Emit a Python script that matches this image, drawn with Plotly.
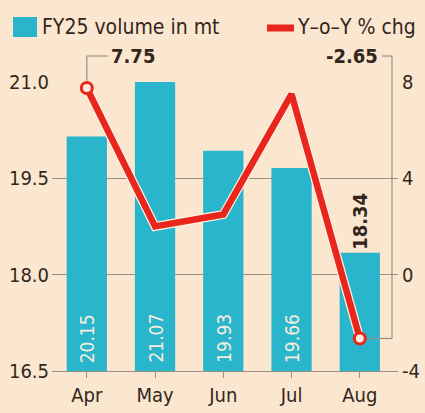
import plotly.graph_objects as go

months = ["Apr", "May", "Jun", "Jul", "Aug"]
volume = [20.15, 21.07, 19.93, 19.66, 18.34]
yoy = [7.75, 2.0, 2.5, 7.5, -2.65]
left_ticks = [16.5, 18.0, 19.5, 21.0]
right_ticks = [-4, 0, 4, 8]
bar_name = "FY25 volume in mt"
line_name = "Y–o–Y % chg"

BG = "#fbe6d0"
TEAL = "#29b6cc"
RED = "#e8261c"
DARK = "#33261c"
GRID = "#9b8f84"
FONT = "DejaVu Sans Condensed, DejaVu Sans, sans-serif"

W, H = 425, 413
ML, MR, MT, MB = 52, 27, 82, 42
XR = [-0.51, 4.56]
YR = [16.5, 21.0]
Y2R = [-4, 8]
PW, PH = W - ML - MR, H - MT - MB

def px(i):
    return (i - XR[0]) / (XR[1] - XR[0])

def py2(v):
    return (v - Y2R[0]) / (Y2R[1] - Y2R[0])

def ppx(pix):  # pixel x -> paper
    return (pix - ML) / PW

def ppy(pix):  # pixel y -> paper
    return (H - MB - pix) / PH

fig = go.Figure()

n = len(volume)
fig.add_trace(go.Bar(
    x=months, y=volume, name=bar_name, showlegend=False,
    marker=dict(color=TEAL, line=dict(width=0)),
    width=0.59,
    text=[""] * (n - 1) + [f"<b>{volume[-1]:.2f}</b>"],
    textposition="outside",
    textangle=-90,
    constraintext="none",
    textfont=dict(family=FONT, size=20, color=DARK),
    cliponaxis=False,
))

fig.add_trace(go.Scatter(
    x=months, y=yoy, yaxis="y2", mode="lines",
    line=dict(color="#fff1e2", width=9), showlegend=False, hoverinfo="skip",
))
fig.add_trace(go.Scatter(
    x=months, y=yoy, yaxis="y2", mode="lines+markers", name=line_name, showlegend=False,
    line=dict(color=RED, width=6.5),
    marker=dict(size=11, color="#fbe9dc", line=dict(color=RED, width=3),
                opacity=[1, 0, 0, 0, 1]),
    cliponaxis=False,
))

line_style = dict(color=GRID, width=1.2)
shapes = []
top = ppy(56)
ax = px(0)
shapes.append(dict(type="line", xref="paper", yref="paper",
                   x0=ax, x1=ax, y0=py2(yoy[0]) + 0.025, y1=top, line=line_style))
shapes.append(dict(type="line", xref="paper", yref="paper",
                   x0=ax, x1=ax + 0.06, y0=top, y1=top, line=line_style))
gx = px(4)
rx = ppx(392)
shapes.append(dict(type="line", xref="paper", yref="paper",
                   x0=gx + 0.022, x1=rx, y0=py2(yoy[-1]), y1=py2(yoy[-1]), line=line_style))
shapes.append(dict(type="line", xref="paper", yref="paper",
                   x0=rx, x1=rx, y0=py2(yoy[-1]), y1=top, line=line_style))
shapes.append(dict(type="line", xref="paper", yref="paper",
                   x0=rx, x1=ppx(382), y0=top, y1=top, line=line_style))

# legend swatches
shapes.append(dict(type="rect", xref="paper", yref="paper",
                   x0=ppx(13), x1=ppx(37), y0=ppy(37), y1=ppy(17),
                   fillcolor=TEAL, line=dict(width=0)))
shapes.append(dict(type="line", xref="paper", yref="paper",
                   x0=ppx(267), x1=ppx(294), y0=ppy(28), y1=ppy(28),
                   line=dict(color=RED, width=7)))

annotations = [
    dict(xref="paper", yref="paper", x=ax + 0.065, y=top, xanchor="left", yanchor="middle",
         text=f"<b>{yoy[0]:.2f}</b>", showarrow=False,
         font=dict(family=FONT, size=20, color=DARK)),
    dict(xref="paper", yref="paper", x=ppx(380), y=top, xanchor="right", yanchor="middle",
         text=f"<b>-{abs(yoy[-1]):.2f}</b>", showarrow=False,
         font=dict(family=FONT, size=20, color=DARK)),
    dict(xref="paper", yref="paper", x=ppx(40), y=ppy(27), xanchor="left", yanchor="middle",
         text=bar_name, showarrow=False, font=dict(family=FONT, size=21, color=DARK)),
    dict(xref="paper", yref="paper", x=ppx(295), y=ppy(27), xanchor="left", yanchor="middle",
         text=line_name, showarrow=False, font=dict(family=FONT, size=21, color=DARK)),
]
# value labels inside the first bars, at their base
for m, v in zip(months[:-1], volume[:-1]):
    annotations.append(dict(x=m, y=YR[0], xref="x", yref="y", xanchor="center",
                            yanchor="bottom", yshift=6, textangle=-90,
                            text=f"{v:.2f}", showarrow=False,
                            font=dict(family=FONT, size=19, color="#f7ecdc")))

fig.update_layout(
    width=W, height=H,
    margin=dict(l=ML, r=MR, t=MT, b=MB, autoexpand=False),
    paper_bgcolor=BG, plot_bgcolor=BG,
    font=dict(family=FONT, size=20, color=DARK),
    showlegend=False,
    xaxis=dict(range=XR, showgrid=False, showline=True, linecolor=GRID, linewidth=1.2,
               ticks="outside", ticklen=6, tickcolor=GRID, tickwidth=1.2,
               ticklabelstandoff=0,
               tickfont=dict(family=FONT, size=20, color=DARK), fixedrange=True),
    yaxis=dict(range=YR, tickvals=left_ticks, ticktext=[f"{t:.1f}" for t in left_ticks],
               showgrid=True, gridcolor=GRID, gridwidth=1, zeroline=False,
               ticks="", showline=False, ticklabelstandoff=2,
               tickfont=dict(family=FONT, size=20, color=DARK)),
    yaxis2=dict(range=Y2R, tickvals=right_ticks, ticktext=[str(t) for t in right_ticks],
                overlaying="y", side="right",
                showgrid=False, zeroline=False, ticks="", showline=False,
                ticklabelstandoff=3,
                tickfont=dict(family=FONT, size=20, color=DARK)),
    shapes=shapes, annotations=annotations,
)

fig.write_html("out.html", config={"displayModeBar": False},
               post_script="document.body.style.margin='0';document.body.style.overflow='hidden';")
